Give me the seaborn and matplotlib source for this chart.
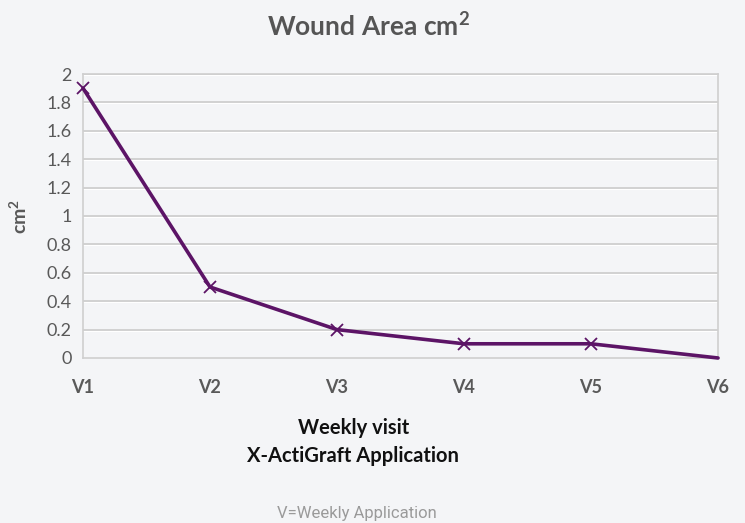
import matplotlib
matplotlib.use("Agg")
import matplotlib.pyplot as plt
import seaborn as sns
import pandas as pd

visits = ["V1", "V2", "V3", "V4", "V5", "V6"]
area = [1.9, 0.5, 0.2, 0.1, 0.1, 0.0]
yticks = [0, 0.2, 0.4, 0.6, 0.8, 1, 1.2, 1.4, 1.6, 1.8, 2]
ytick_labels = ["0", "0.2", "0.4", "0.6", "0.8", "1", "1.2", "1.4", "1.6", "1.8", "2"]

sns.set_style("white")
plt.rcParams['font.family'] = ['Lato', 'DejaVu Sans']
plt.rcParams['mathtext.fontset'] = 'custom'
plt.rcParams['mathtext.bf'] = 'Lato:bold'
plt.rcParams['mathtext.rm'] = 'Lato'

bg = "#F4F5F7"
fig = plt.figure(figsize=(7.45, 5.23), dpi=100, facecolor=bg)
ax = fig.add_axes([0.1114, 0.3155, 0.8524, 0.543])
ax.set_facecolor(bg)

df = pd.DataFrame({"visit": visits, "area": area})
sns.lineplot(data=df, x="visit", y="area", ax=ax, color="#5C1466", linewidth=2.6,
             marker="x", markersize=9, markeredgewidth=1.3, markeredgecolor="#5C1466",
             markevery=[0, 1, 2, 3, 4], sort=False, zorder=5)
for ln in ax.lines:
    ln.set_clip_on(False)

ax.set_xlim(0, len(visits) - 1)
ax.set_ylim(0, 2)
ax.set_yticks(yticks)
ax.set_yticklabels(ytick_labels)
for y in yticks[1:]:
    ax.axhline(y, color="white", lw=2.2, zorder=1)
    ax.axhline(y, color="#C9C9C9", lw=1.2, zorder=2)

for s in ax.spines.values():
    s.set_color("#CFCFCF")
    s.set_linewidth(1.2)

ax.tick_params(axis="y", length=0, pad=8, labelsize=13, labelcolor="#595959")
ax.tick_params(axis="x", length=0, pad=15, labelsize=13, labelcolor="#595959")
for t in ax.get_xticklabels():
    t.set_fontweight("bold")

ax.set_xlabel("")
ax.set_ylabel("cm$^{\\mathbf{2}}$", fontsize=14, fontweight="bold", color="#595959", labelpad=12)

fig.text(0.474, 0.155, "Weekly visit\nX-ActiGraft Application", ha="center", va="center",
         fontsize=14.5, fontweight="bold", color="#111111", linespacing=1.55)

fig.text(0.494, 0.950, "Wound Area cm$^{\\mathbf{2}}$", ha="center", va="center",
         fontsize=19, fontweight="bold", color="#555555")
fig.text(0.479, 0.019, "V=Weekly Application", ha="center", va="center",
         fontsize=12, color="#9A9A9A", fontfamily="Roboto")

fig.savefig("out.png", dpi=100, facecolor=bg)
